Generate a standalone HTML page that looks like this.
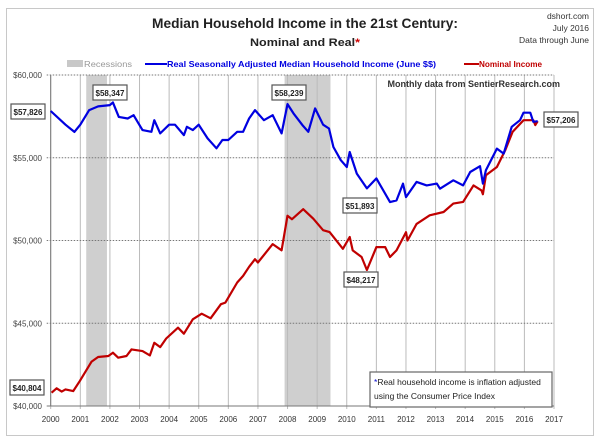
<!DOCTYPE html>
<html><head><meta charset="utf-8"><style>
body{margin:0;background:#fff;}
svg{display:block;font-family:"Liberation Sans",sans-serif;}
</style></head><body>
<svg id="chart" width="600" height="441" viewBox="0 0 600 441">
<rect x="6.5" y="8.5" width="587" height="427" fill="#fff" stroke="#c8c8c8"/>
<text x="152" y="28" textLength="306" lengthAdjust="spacingAndGlyphs" font-size="14" font-weight="bold" fill="#222">Median Household Income in the 21st Century:</text>
<text x="250" y="46" textLength="110" lengthAdjust="spacingAndGlyphs" font-size="11" font-weight="bold" fill="#222">Nominal and Real<tspan fill="#c00">*</tspan></text>
<g font-size="8.5" fill="#333" text-anchor="end">
<text x="589" y="19">dshort.com</text><text x="589" y="31">July 2016</text><text x="589" y="43">Data through June</text></g>
<g font-size="8.5" font-weight="bold">
<rect x="67" y="60" width="16" height="7" fill="#c8c8c8"/>
<text x="84" y="67" textLength="48" lengthAdjust="spacingAndGlyphs" font-weight="normal" fill="#999">Recessions</text>
<line x1="145" y1="64" x2="167" y2="64" stroke="#0000e0" stroke-width="2"/>
<text x="167" y="67" textLength="269" lengthAdjust="spacingAndGlyphs" fill="#0000e0">Real Seasonally Adjusted Median Household Income (June $$)</text>
<line x1="464" y1="64" x2="479" y2="64" stroke="#c00000" stroke-width="2"/>
<text x="479" y="67" textLength="63" lengthAdjust="spacingAndGlyphs" fill="#c00000">Nominal Income</text>
</g>
<g id="grid"></g>
<g id="series"></g>
<text x="560" y="87" text-anchor="end" font-size="9" font-weight="bold" fill="#333">Monthly data from SentierResearch.com</text>
<g id="labels"></g>
<g>
<rect x="370" y="372" width="182" height="35" fill="#fff" stroke="#666" stroke-width="1.2"/>
<text x="374" y="385" font-size="8.5" fill="#222"><tspan fill="#00c">*</tspan>Real household  income is inflation adjusted</text>
<text x="374" y="399" font-size="8.5" fill="#222">using  the Consumer Price Index</text>
</g>
</svg>
<script>
const yearTicks=[2000,2001,2002,2003,2004,2005,2006,2007,2008,2009,2010,2011,2012,2013,2014,2015,2016,2017];
const valueTicks=[40000,45000,50000,55000,60000];
const recessions=[[2001.2,2001.9],[2007.9,2009.45]];
const realYears=[2000.0,2000.5,2000.8,2001.0,2001.3,2001.6,2002.0,2002.1,2002.3,2002.6,2002.8,2003.1,2003.4,2003.5,2003.7,2004.0,2004.2,2004.5,2004.6,2004.8,2005.0,2005.3,2005.6,2005.8,2006.0,2006.3,2006.5,2006.7,2006.9,2007.2,2007.5,2007.8,2008.0,2008.2,2008.5,2008.7,2008.93,2009.2,2009.4,2009.55,2009.8,2010.0,2010.1,2010.34,2010.68,2011.0,2011.46,2011.68,2011.9,2012.0,2012.36,2012.7,2013.04,2013.15,2013.6,2013.93,2014.17,2014.5,2014.6,2014.7,2015.07,2015.3,2015.57,2015.85,2015.97,2016.2,2016.3,2016.45];
const realValues=[57826,57000,56560,57000,57880,58100,58180,58347,57470,57370,57570,56670,56570,57270,56470,57000,57000,56370,56870,56670,57000,56170,55570,56070,56070,56570,56570,57370,57880,57270,57570,56470,58239,57680,56970,56570,57980,57000,56770,55650,54850,54440,55350,54040,53150,53750,52320,52420,53440,52620,53540,53330,53440,53130,53640,53330,54140,54490,53440,54240,55550,55250,56870,57270,57720,57720,57170,57206];
const nomYears=[2000.03,2000.2,2000.37,2000.5,2000.76,2000.98,2001.38,2001.6,2001.95,2002.1,2002.28,2002.56,2002.73,2003.1,2003.35,2003.5,2003.7,2003.9,2004.3,2004.5,2004.8,2005.1,2005.4,2005.75,2005.9,2006.3,2006.5,2006.7,2006.9,2007.0,2007.5,2007.8,2008.0,2008.15,2008.53,2008.87,2009.2,2009.42,2009.87,2010.1,2010.2,2010.5,2010.68,2011.0,2011.3,2011.46,2011.68,2012.0,2012.05,2012.36,2012.8,2013.27,2013.6,2013.93,2014.28,2014.55,2014.6,2014.7,2015.07,2015.35,2015.6,2015.97,2016.3,2016.37,2016.45];
const nomValues=[40804,41070,40870,41000,40900,41500,42680,42960,43020,43220,42920,43020,43420,43320,43060,43820,43560,44080,44730,44370,45240,45580,45300,46150,46250,47460,47860,48410,48870,48670,49780,49410,51500,51290,51893,51320,50620,50510,49500,50210,49400,49000,48217,49600,49600,49000,49400,50500,50000,51000,51520,51720,52230,52330,53330,53030,52800,53940,54440,55450,56560,57270,57270,56970,57206];
const callouts=[["$57,826",28,112],["$58,347",110,93],["$58,239",289,93],["$51,893",360,206],["$48,217",361,280],["$57,206",561,120],["$40,804",27,388]];
const NS="http://www.w3.org/2000/svg";
const X0=50.7,X1=554,Y0=406,Y1=75;
const xs=y=>X0+(y-2000)/17*(X1-X0);
const ys=v=>Y0-(v-40000)/20000*(Y0-Y1);
function mk(t,a,p){const e=document.createElementNS(NS,t);for(const k in a)e.setAttribute(k,a[k]);p.appendChild(e);return e;}
const grid=document.getElementById('grid');
recessions.forEach(r=>{const e=mk('rect',{x:xs(r[0]),y:Y1,width:xs(r[1])-xs(r[0]),height:Y0-Y1,fill:'#cfcfcf'},grid);

});
yearTicks.forEach(y=>{const l=mk('line',{x1:xs(y),x2:xs(y),y1:Y1,y2:Y0+3,stroke:'#bbb','stroke-width':1},grid);


const t=mk('text',{x:xs(y),y:422,'text-anchor':'middle','font-size':8,fill:'#333'},grid);t.textContent=y;

});
valueTicks.forEach(v=>{const l=mk('line',{x1:X0-4,x2:X1,y1:ys(v),y2:ys(v),stroke:'#777','stroke-width':1,'stroke-dasharray':v==40000?'':'1.5,1.5'},grid);


const t=mk('text',{x:42,y:ys(v)+3,'text-anchor':'end','font-size':8,fill:'#444'},grid);t.textContent='$'+v.toLocaleString('en-US');

});
mk('line',{x1:X0,x2:X0,y1:Y1,y2:Y0,stroke:'#777'},grid);
const ser=document.getElementById('series');
function line(xa,va,c,name){const d=xa.map((y,i)=>(i?'L':'M')+xs(y).toFixed(1)+','+ys(va[i]).toFixed(1)).join('');
const p=mk('path',{d:d,fill:'none',stroke:c,'stroke-width':2.2,'stroke-linejoin':'round'},ser);

}
line(nomYears,nomValues,'#c00000','nominal-income-line');
line(realYears,realValues,'#0000e0','real-income-line');
const lab=document.getElementById('labels');
callouts.forEach(c=>{const g=mk('g',{},lab);


mk('rect',{x:c[1]-17,y:c[2]-8,width:34,height:15,fill:'#fff',stroke:'#555','stroke-width':1.2},g);
const t=mk('text',{x:c[1],y:c[2]+3,'text-anchor':'middle','font-size':8,'font-weight':'bold',fill:'#222'},g);t.textContent=c[0];});
</script>
</body></html>
